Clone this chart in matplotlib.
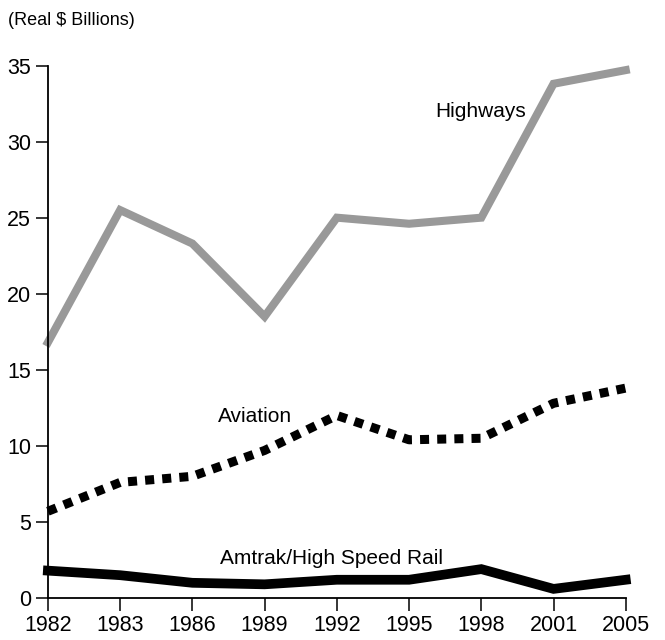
import matplotlib
matplotlib.use("Agg")
import matplotlib.pyplot as plt

plt.rcParams['font.family'] = ['Liberation Sans', 'DejaVu Sans']

years = ['1982', '1983', '1986', '1989', '1992', '1995', '1998', '2001', '2005']
highways = [16.8, 25.5, 23.3, 18.5, 25.0, 24.6, 25.0, 33.8, 34.7]
aviation = [5.7, 7.6, 8.0, 9.7, 12.0, 10.4, 10.5, 12.8, 13.8]
amtrak = [1.8, 1.5, 1.0, 0.9, 1.2, 1.2, 1.9, 0.6, 1.2]

fig = plt.figure(figsize=(6.65, 6.4), dpi=100)
ax = fig.add_axes([0.072, 0.0656, 0.869, 0.832])

x = range(len(years))
ax.plot(x, highways, color='#999999', lw=5.8, solid_joinstyle='miter', clip_on=False)
ax.plot(x, aviation, color='black', lw=6.5, linestyle=(0, (1.0, 0.9)), clip_on=False)
ax.plot(x, amtrak, color='black', lw=7.0, solid_joinstyle='miter', clip_on=False)

ax.text(5.99, 32.0, 'Highways', fontsize=15, ha='center', va='center')
ax.text(2.87, 11.95, 'Aviation', fontsize=15, ha='center', va='center')
ax.text(3.93, 2.63, 'Amtrak/High Speed Rail', fontsize=15, ha='center', va='center')

ax.set_xlim(0, len(years) - 1)
ax.set_ylim(0, 35)
ax.set_xticks(list(x))
ax.set_xticklabels(years)
ax.set_yticks([0, 5, 10, 15, 20, 25, 30, 35])
ax.tick_params(axis='both', length=9, width=1.1, labelsize=15.5, direction='out', pad=3)

for s in ['top', 'right']:
    ax.spines[s].set_visible(False)
for s in ['left', 'bottom']:
    ax.spines[s].set_linewidth(1.3)

fig.text(0.012, 0.968, '(Real $ Billions)', fontsize=13, ha='left', va='center')

fig.savefig('out.png', dpi=100)
